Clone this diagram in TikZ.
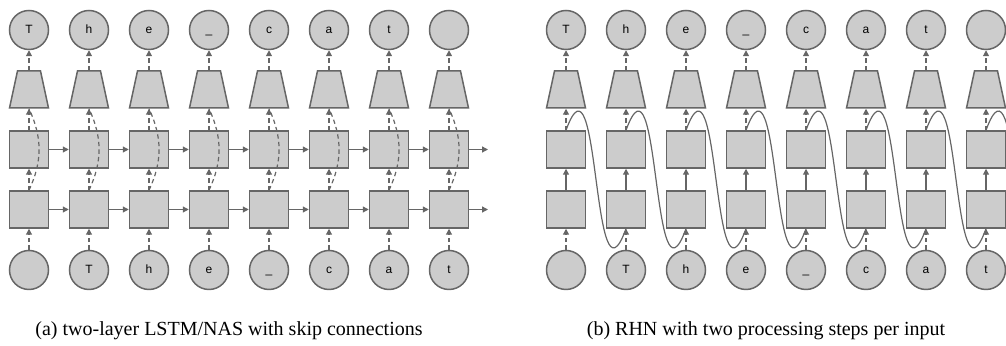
\documentclass[tikz,border=0pt]{standalone}
\usepackage{fontspec}
\setmainfont{Liberation Serif}
\newfontfamily\symfont{Liberation Sans}
\usetikzlibrary{shapes.geometric,arrows.meta}

\definecolor{cellfill}{HTML}{CCCCCC}
\definecolor{cellline}{HTML}{666666}

\tikzset{
  cell/.style={draw=cellline, fill=cellfill, line width=0.75pt,
    minimum width=19.5pt, minimum height=18.5pt, inner sep=0pt},
  sym/.style={circle, draw=cellline, fill=cellfill, line width=0.75pt,
    minimum size=19.5pt, inner sep=0pt,
    font=\symfont\fontsize{6}{7}\selectfont, text height=4.3pt, text depth=1pt},
  proj/.style={trapezium, draw=cellline, fill=cellfill, line width=0.75pt,
    trapezium left angle=77.8, trapezium right angle=77.8,
    inner xsep=5.75pt, inner ysep=9.25pt},
  flow/.style={draw=cellline, line width=0.6pt, -{Triangle[length=3pt,width=3pt]}},
  dflow/.style={flow, dash pattern=on 2.2pt off 1.6pt},
  skip/.style={draw=cellline, line width=0.6pt},
  dskip/.style={skip, dash pattern=on 2.2pt off 1.6pt},
}

\begin{document}
\begin{tikzpicture}[x=0.5pt,y=0.5pt]
  \clip (0,0) rectangle (1006,346);

  % (a) two-layer LSTM/NAS with skip connections
  \foreach \i/\curch/\nextch in {0/{}/T,1/T/h,2/h/e,3/e/\_,4/\_/c,5/c/a,6/a/t,7/t/{}} {
    \node[sym]  (ai\i) at (29+60*\i,76)    {\curch};
    \node[cell] (al\i) at (29+60*\i,136.5) {};
    \node[cell] (au\i) at (29+60*\i,196.5) {};
    \node[proj] (at\i) at (29+60*\i,256.5) {};
    \node[sym]  (ao\i) at (29+60*\i,316)   {\nextch};
    \draw[dflow] (ai\i) -- (al\i);
    \draw[dflow] (al\i) -- (au\i);
    \draw[dflow] (au\i) -- (at\i);
    \draw[dflow] (at\i) -- (ao\i);
    \draw[dskip] (al\i.north) to[bend right=25] (at\i.south);
  }
  \foreach \i [count=\j from 1] in {0,...,6} {
    \draw[flow] (al\i) -- (al\j);
    \draw[flow] (au\i) -- (au\j);
  }
  \coordinate (alend) at (488,136.5);
  \coordinate (auend) at (488,196.5);
  \draw[flow] (al7) -- (alend);
  \draw[flow] (au7) -- (auend);

  % (b) RHN with two processing steps per input
  \foreach \i/\curch/\nextch in {0/{}/T,1/T/h,2/h/e,3/e/\_,4/\_/c,5/c/a,6/a/t,7/t/{}} {
    \node[sym]  (bi\i) at (566+60*\i,76)    {\curch};
    \node[cell] (bl\i) at (566+60*\i,136.5) {};
    \node[cell] (bu\i) at (566+60*\i,196.5) {};
    \node[proj] (bt\i) at (566+60*\i,256.5) {};
    \node[sym]  (bo\i) at (566+60*\i,316)   {\nextch};
    \draw[dflow] (bi\i) -- (bl\i);
    \draw[flow]  (bl\i) -- (bu\i);
    \draw[dflow] (bu\i) -- (bt\i);
    \draw[dflow] (bt\i) -- (bo\i);
  }
  \foreach \i [count=\j from 1] in {0,...,6} {
    \draw[skip] (bu\i.north) .. controls +(70:100) and +(250:100) .. (bl\j.south);
  }
  \coordinate (blend) at (1046,118);
  \draw[skip] (bu7.north) .. controls +(70:100) and +(250:100) .. (blend);

  \node[anchor=base] (capa) at (229,10) {(a) two-layer LSTM/NAS with skip connections};
  \node[anchor=base] (capb) at (766,10) {(b) RHN with two processing steps per input};
\end{tikzpicture}
\end{document}
